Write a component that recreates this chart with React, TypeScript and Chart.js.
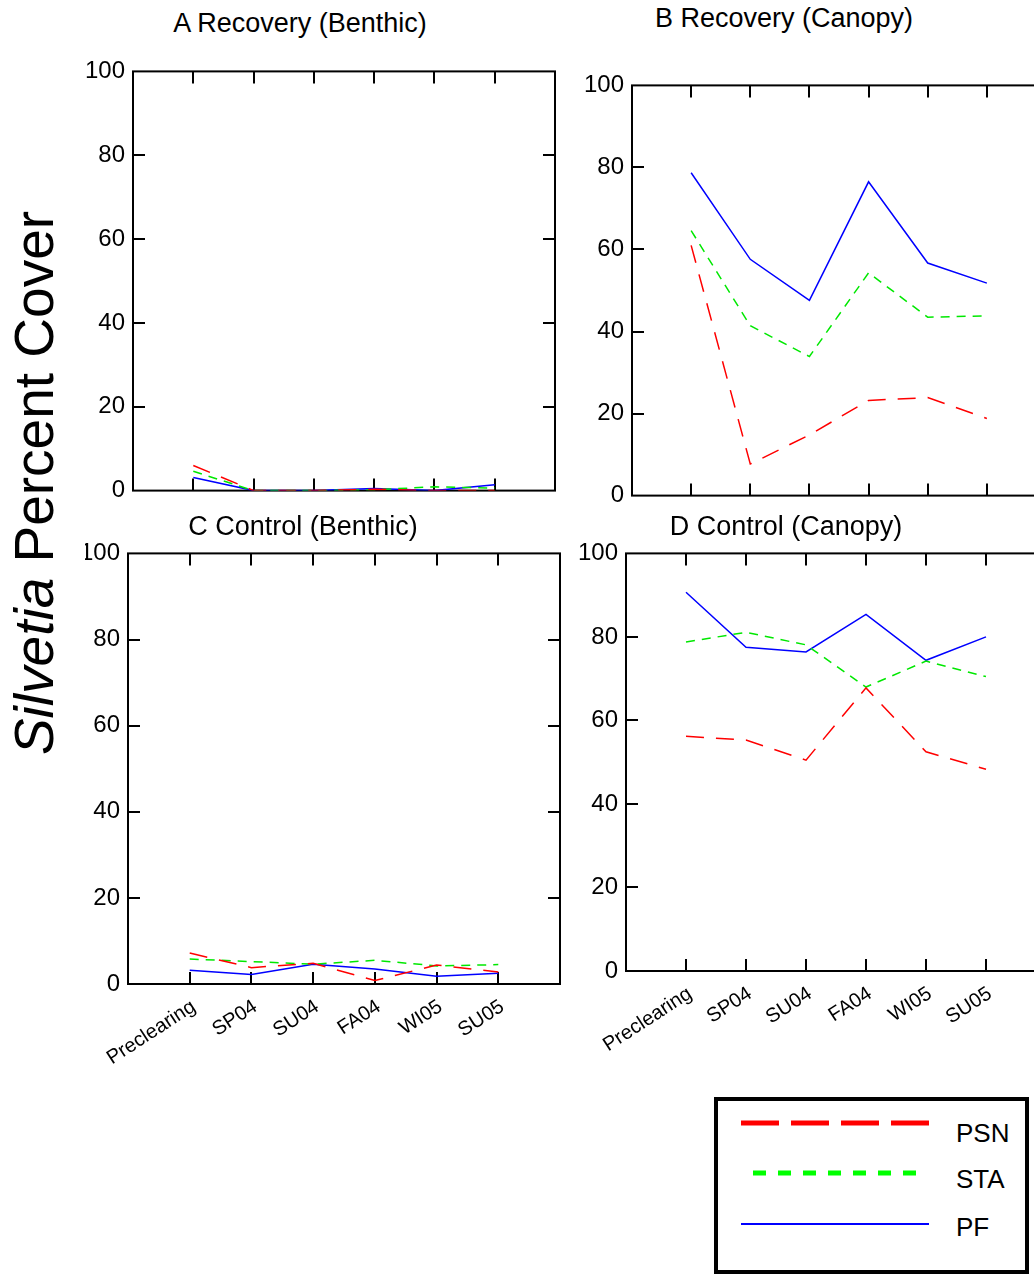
import React, { useEffect, useRef } from 'react'
import { Chart, registerables } from 'chart.js'

Chart.register(...registerables)

const FONT = "'Liberation Sans', Arial, Helvetica, sans-serif"

// sampling periods on the x axis
const periods = ['Preclearing', 'SP04', 'SU04', 'FA04', 'WI05', 'SU05']

// % cover of Silvetia
const recoveryBenthicPSN = [6, 0, 0, 0.3, 0, 0]
const recoveryBenthicSTA = [4.6, 0, 0, 0.2, 0.9, 0.6]
const recoveryBenthicPF = [3.1, 0, 0, 0.5, 0, 1.4]

const recoveryCanopyPSN = [61, 7.7, 14.8, 23.2, 23.9, 18.8]
const recoveryCanopySTA = [64.6, 41.4, 33.9, 54.3, 43.5, 43.8]
const recoveryCanopyPF = [78.7, 57.6, 47.6, 76.5, 56.7, 51.8]

const controlBenthicPSN = [7.2, 3.8, 4.8, 0.8, 4.4, 2.8]
const controlBenthicSTA = [5.8, 5.2, 4.6, 5.5, 4.2, 4.5]
const controlBenthicPF = [3.2, 2.2, 4.6, 3.5, 1.8, 2.5]

const controlCanopyPSN = [56.2, 55.3, 50.5, 67.8, 52.5, 48.3]
const controlCanopySTA = [78.8, 81.1, 78.1, 68.0, 74.2, 70.5]
const controlCanopyPF = [90.7, 77.5, 76.4, 85.4, 74.4, 80.0]

const seriesNames = ['PSN', 'STA', 'PF']
const seriesColors = ['#ff0000', '#00e800', '#0000ff']
const seriesDash = [[18, 12], [9, 7], []]

const yMax = 100
const yStep = 20

const TICK = 12

// box round the plot area with inward ticks on all four sides
const framePlugin = {
  id: 'frame',
  beforeDatasetsDraw(chart: any) {
    const { ctx, chartArea: a, scales } = chart
    ctx.save()
    ctx.strokeStyle = '#000'
    ctx.lineWidth = 2
    ctx.strokeRect(a.left, a.top, a.right - a.left, a.bottom - a.top)
    ctx.beginPath()
    for (const t of scales.x.ticks) {
      if (t.value < 0 || t.value >= periods.length) continue
      const px = Math.round(scales.x.getPixelForValue(t.value))
      ctx.moveTo(px, a.bottom)
      ctx.lineTo(px, a.bottom - TICK)
      ctx.moveTo(px, a.top)
      ctx.lineTo(px, a.top + TICK)
    }
    for (const t of scales.y.ticks) {
      if (t.value <= 0 || t.value >= yMax) continue
      const py = Math.round(scales.y.getPixelForValue(t.value))
      ctx.moveTo(a.left, py)
      ctx.lineTo(a.left + TICK, py)
      ctx.moveTo(a.right, py)
      ctx.lineTo(a.right - TICK, py)
    }
    ctx.stroke()
    ctx.restore()
  },
}

type Area = { left: number; top: number; right: number; bottom: number }

type PanelProps = {
  series: number[][]
  area: Area
  showLabels: boolean
}

const Panel: React.FC<PanelProps> = ({ series, area, showLabels }) => {
  const ref = useRef<HTMLCanvasElement | null>(null)
  const yAxisW = 70
  const padTop = 20
  const padRight = showLabels ? 40 : 10
  const xAxisH = showLabels ? 100 : 20
  const left = area.left - yAxisW
  const top = area.top - padTop
  const width = area.right - left + padRight
  const height = area.bottom - top + xAxisH

  useEffect(() => {
    if (!ref.current) return
    const chart = new Chart(ref.current, {
      type: 'line',
      data: {
        datasets: series.map((vals, i) => ({
          label: seriesNames[i],
          data: vals.map((y, x) => ({ x, y })),
          borderColor: seriesColors[i],
          borderWidth: 1.5,
          borderDash: seriesDash[i],
          pointRadius: 0,
          fill: false,
          tension: 0,
        })),
      },
      options: {
        responsive: false,
        animation: false,
        layout: { padding: { top: padTop, right: padRight, left: 0, bottom: 0 } },
        plugins: { legend: { display: false }, tooltip: { enabled: false } },
        scales: {
          x: {
            type: 'linear',
            min: -1,
            max: periods.length,
            grid: { display: false, drawTicks: false },
            border: { display: false },
            ticks: {
              stepSize: 1,
              autoSkip: false,
              display: showLabels,
              minRotation: 33,
              maxRotation: 33,
              padding: 11,
              labelOffset: 4,
              color: '#000',
              font: { family: FONT, size: 20 },
              callback: (v: any) => periods[v] ?? '',
            },
            afterFit: (s: any) => {
              s.height = xAxisH
            },
          },
          y: {
            min: 0,
            max: yMax,
            grid: { display: false, drawTicks: false },
            border: { display: false },
            ticks: {
              stepSize: yStep,
              padding: 8,
              color: '#000',
              font: { family: FONT, size: 24 },
            },
            afterFit: (s: any) => {
              s.width = yAxisW
            },
          },
        },
      },
      plugins: [framePlugin],
    } as any)
    return () => chart.destroy()
  }, [series, showLabels, xAxisH, padRight])

  return (
    <canvas
      ref={ref}
      width={width}
      height={height}
      style={{ position: 'absolute', left, top, width, height }}
    />
  )
}

const titleStyle = (x: number, y: number): React.CSSProperties => ({
  position: 'absolute',
  left: x,
  top: y,
  transform: 'translateX(-50%)',
  fontSize: 27,
  lineHeight: '27px',
  whiteSpace: 'nowrap',
  color: '#000',
})

const Legend: React.FC = () => {
  const rows = [
    { y: 22, x1: 23, x2: 211, w: 5, dash: '38 12', textY: 19 },
    { y: 72, x1: 35, x2: 198, w: 5, dash: '13 12', textY: 65 },
    { y: 123, x1: 23, x2: 211, w: 2, dash: '', textY: 113 },
  ]
  return (
    <div
      style={{
        position: 'absolute',
        left: 714,
        top: 1097,
        width: 315,
        height: 177,
        border: '4px solid #000',
        boxSizing: 'border-box',
        background: '#fff',
      }}
    >
      <svg width={307} height={169} style={{ position: 'absolute', left: 0, top: 0 }}>
        {rows.map((r, i) => (
          <line
            key={seriesNames[i]}
            x1={r.x1}
            x2={r.x2}
            y1={r.y}
            y2={r.y}
            stroke={i === 1 ? '#00ff00' : seriesColors[i]}
            strokeWidth={r.w}
            strokeDasharray={r.dash || undefined}
          />
        ))}
      </svg>
      {rows.map((r, i) => (
        <div
          key={seriesNames[i]}
          style={{ position: 'absolute', left: 238, top: r.textY, fontSize: 26, lineHeight: '26px' }}
        >
          {seriesNames[i]}
        </div>
      ))}
    </div>
  )
}

const recoveryBenthic = [recoveryBenthicPSN, recoveryBenthicSTA, recoveryBenthicPF]
const recoveryCanopy = [recoveryCanopyPSN, recoveryCanopySTA, recoveryCanopyPF]
const controlBenthic = [controlBenthicPSN, controlBenthicSTA, controlBenthicPF]
const controlCanopy = [controlCanopyPSN, controlCanopySTA, controlCanopyPF]

export default function App() {
  return (
    <div
      style={{
        position: 'absolute',
        left: 0,
        top: 0,
        width: 1034,
        height: 1274,
        overflow: 'hidden',
        background: '#fff',
        fontFamily: FONT,
        color: '#000',
      }}
    >
      <Panel series={recoveryBenthic} area={{ left: 133, top: 69, right: 555, bottom: 493 }} showLabels={false} />
      <Panel series={recoveryCanopy} area={{ left: 632, top: 83, right: 1046, bottom: 498 }} showLabels={false} />
      <Panel series={controlBenthic} area={{ left: 128, top: 551, right: 560, bottom: 984 }} showLabels />
      <Panel series={controlCanopy} area={{ left: 626, top: 551, right: 1046, bottom: 971 }} showLabels />

      <div style={titleStyle(300, 10)}>A Recovery (Benthic)</div>
      <div style={titleStyle(784, 5)}>B Recovery (Canopy)</div>
      <div style={titleStyle(303, 513)}>C Control (Benthic)</div>
      <div style={titleStyle(786, 513)}>D Control (Canopy)</div>

      <div
        style={{
          position: 'absolute',
          left: 7,
          top: 768,
          width: 570,
          height: 55,
          paddingBottom: 23,
          lineHeight: '55px',
          fontSize: 55,
          textAlign: 'center',
          whiteSpace: 'nowrap',
          background: '#fff',
          transform: 'rotate(-90deg)',
          transformOrigin: '0 0',
        }}
      >
        <i>Silvetia</i> Percent Cover
      </div>

      <Legend />
    </div>
  )
}
